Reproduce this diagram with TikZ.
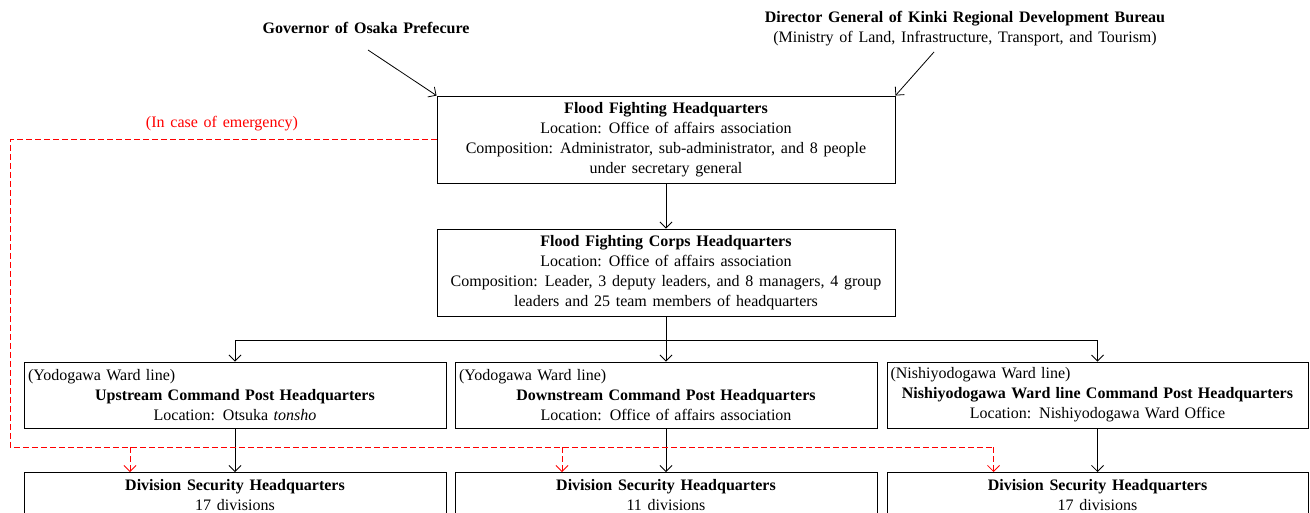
\documentclass[tikz,border=0pt]{standalone}
\usepackage{fontspec}
\setmainfont{Liberation Serif}
\usetikzlibrary{arrows.meta}
\newcommand{\myfont}{\fontsize{16}{20}\selectfont\spaceskip=0.36em plus 0.1em minus 0.1em\relax}
\begin{document}
\begin{tikzpicture}[x=1pt,y=-1pt,
  box/.style={draw,line width=0.9pt,align=center,inner sep=2pt,font=\myfont},
  txt/.style={align=center,inner sep=0pt,font=\myfont},
  arr/.style={line width=0.8pt,-{Straight Barb[length=6pt,width=12pt]}},
  emg/.style={red,dashed,dash pattern=on 6pt off 3pt,line width=0.8pt},
  emgarr/.style={emg,-{Straight Barb[length=6pt,width=12pt]}}]
\useasboundingbox (0,0) rectangle (1310,512);
\clip (0,0) rectangle (1310,512);
\node[txt] (gov) at (366,28) {\textbf{Governor of Osaka Prefecure}};
\node[txt] (dir) at (965,29) {\textbf{Director General of Kinki Regional Development Bureau}\\(Ministry of Land, Infrastructure, Transport, and Tourism)};
\node[box,minimum width=458,minimum height=87] (ffhq) at (666,139.5)
  {\textbf{Flood Fighting Headquarters}\\Location: Office of affairs association\\Composition: Administrator, sub-administrator, and 8 people\\under secretary general};
\node[box,minimum width=458,minimum height=87] (ffc) at (666,272.5)
  {\textbf{Flood Fighting Corps Headquarters}\\Location: Office of affairs association\\Composition: Leader, 3 deputy leaders, and 8 managers, 4 group\\leaders and 25 team members of headquarters};
\node[box,minimum width=422,minimum height=66,text width=414] (c1) at (235,395)
  {\makebox[\linewidth][l]{(Yodogawa Ward line)}\\\textbf{Upstream Command Post Headquarters}\\Location: Otsuka \textit{tonsho}};
\node[box,minimum width=422,minimum height=66,text width=414] (c2) at (666,395)
  {\makebox[\linewidth][l]{(Yodogawa Ward line)}\\\textbf{Downstream Command Post Headquarters}\\Location: Office of affairs association};
\node[box,minimum width=421,minimum height=66,text width=414] (c3) at (1097.5,395)
  {\makebox[\linewidth][l]{(Nishiyodogawa Ward line)}\\\textbf{Nishiyodogawa Ward line Command Post Headquarters}\\Location: Nishiyodogawa Ward Office};
\node[box,minimum width=422,minimum height=46,anchor=north] (d1) at (235,472)
  {\textbf{Division Security Headquarters}\\17 divisions};
\node[box,minimum width=422,minimum height=46,anchor=north] (d2) at (666,472)
  {\textbf{Division Security Headquarters}\\11 divisions};
\node[box,minimum width=421,minimum height=46,anchor=north] (d3) at (1097.5,472)
  {\textbf{Division Security Headquarters}\\17 divisions};
\coordinate (gs) at (368,50);
\coordinate (ds) at (934,52);
\draw[arr] (gs) -- (ffhq.north west);
\draw[arr] (ds) -- (ffhq.north east);
\draw[arr] (ffhq) -- (ffc);
\coordinate (split) at (666,340);
\draw[line width=0.8pt] (ffc.south) -- (split);
\draw[line width=0.8pt] (c1.north |- split) -- (c3.north |- split);
\draw[arr] (c1.north |- split) -- (c1.north);
\draw[arr] (split) -- (c2.north);
\draw[arr] (c3.north |- split) -- (c3.north);
\draw[arr] (c1) -- (d1);
\draw[arr] (c2) -- (d2);
\draw[arr] (c3) -- (d3);
\coordinate (el) at (10,447);
\coordinate (e1) at ([xshift=-105pt]d1.north |- el);
\coordinate (e2) at ([xshift=-104pt]d2.north |- el);
\coordinate (e3) at ([xshift=-104pt]d3.north |- el);
\draw[emg] (ffhq.west) -| (el) -- (e3);
\draw[emgarr] (e1) -- ([xshift=-105pt]d1.north);
\draw[emgarr] (e2) -- ([xshift=-104pt]d2.north);
\draw[emgarr] (e3) -- ([xshift=-104pt]d3.north);
\node[txt,red] (lab) at (222,124) {(In case of emergency)};
\end{tikzpicture}
\end{document}
